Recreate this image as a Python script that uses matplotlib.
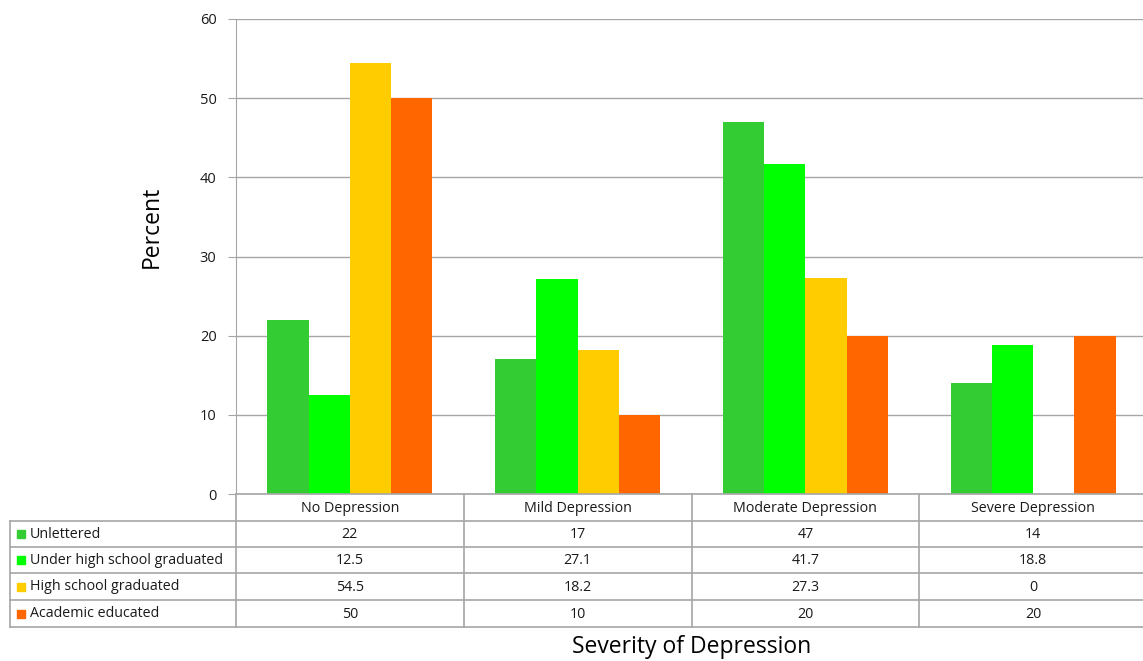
import numpy as np
from matplotlib import pyplot as plt
from matplotlib.patches import Rectangle
from matplotlib.lines import Line2D

categories = ["No Depression", "Mild Depression", "Moderate Depression", "Severe Depression"]
series_names = ["Unlettered", "Under high school graduated", "High school graduated", "Academic educated"]
unlettered = [22, 17, 47, 14]
under_high_school = [12.5, 27.1, 41.7, 18.8]
high_school = [54.5, 18.2, 27.3, 0]
academic = [50, 10, 20, 20]
series_values = [unlettered, under_high_school, high_school, academic]
table_text = [["22", "17", "47", "14"],
              ["12.5", "27.1", "41.7", "18.8"],
              ["54.5", "18.2", "27.3", "0"],
              ["50", "10", "20", "20"]]
colors = ["#33CC33", "#00FF00", "#FFCC00", "#FF6600"]

W, H = 1143, 661
fig = plt.figure(figsize=(W / 100, H / 100), dpi=100)
plt.rcParams["font.family"] = ["Open Sans", "DejaVu Sans"]


def fx(px):
    return px / W


def fy(py):
    return 1 - py / H


grid_col = "#A6A6A6"
txt_col = "#1A1A1A"
right_px = 1147  # plot area runs slightly past the image edge
ax = fig.add_axes([fx(236), fy(494), fx(right_px) - fx(236), fy(19) - fy(494)])
n = len(categories)
x = np.arange(n)
bw = 0.181
for i, vals in enumerate(series_values):
    ax.bar(x + (i - 1.5) * bw, vals, width=bw, color=colors[i], zorder=3, linewidth=0)

ax.set_xlim(-0.5, n - 0.5)
ax.set_ylim(0, 60)
ax.set_yticks(range(0, 61, 10))
ax.tick_params(axis="y", length=6, color=grid_col, labelsize=10.5, pad=8, labelcolor=txt_col)
ax.set_xticks([])
for s in ["top", "right", "bottom"]:
    ax.spines[s].set_visible(False)
ax.spines["left"].set_color(grid_col)
ax.yaxis.grid(True, color=grid_col, linewidth=1, zorder=0)

fig.text(fx(152), fy(227), "Percent", rotation=90, ha="center", va="center", fontsize=16.5,
         color="black")

# data table under the plot
col_edges = [236 + i * (right_px - 236) / n for i in range(n + 1)]
row_edges = [494, 521, 547, 573, 600, 627]
lw = 1.2
fs = 10.3


def hline(x0, x1, y):
    fig.add_artist(Line2D([fx(x0), fx(x1)], [fy(y), fy(y)], color=grid_col, lw=lw))


def vline(x, y0, y1):
    fig.add_artist(Line2D([fx(x), fx(x)], [fy(y0), fy(y1)], color=grid_col, lw=lw))


hline(236, W, 494)
for y in row_edges[1:]:
    hline(10, W, y)
vline(10, 521, 627)
for cx in col_edges[:-1]:
    vline(cx, 494, 627)

for j, cat in enumerate(categories):
    cxm = (col_edges[j] + col_edges[j + 1]) / 2
    fig.text(fx(cxm), fy((row_edges[0] + row_edges[1]) / 2 + 1), cat, ha="center", va="center",
             fontsize=fs, color=txt_col)
    for i in range(len(series_names)):
        fig.text(fx(cxm), fy((row_edges[i + 1] + row_edges[i + 2]) / 2 + 1), table_text[i][j],
                 ha="center", va="center", fontsize=fs, color=txt_col)

for i, name in enumerate(series_names):
    yc = (row_edges[i + 1] + row_edges[i + 2]) / 2
    fig.add_artist(Rectangle((fx(17), fy(yc + 4)), fx(8), fy(0) - fy(8), color=colors[i],
                             transform=fig.transFigure))
    fig.text(fx(30), fy(yc), name, ha="left", va="center", fontsize=fs, color=txt_col)

fig.text(fx(692), fy(647), "Severity of Depression", ha="center", va="center", fontsize=16.5,
         color="black")

fig.savefig("out.png", dpi=100)
